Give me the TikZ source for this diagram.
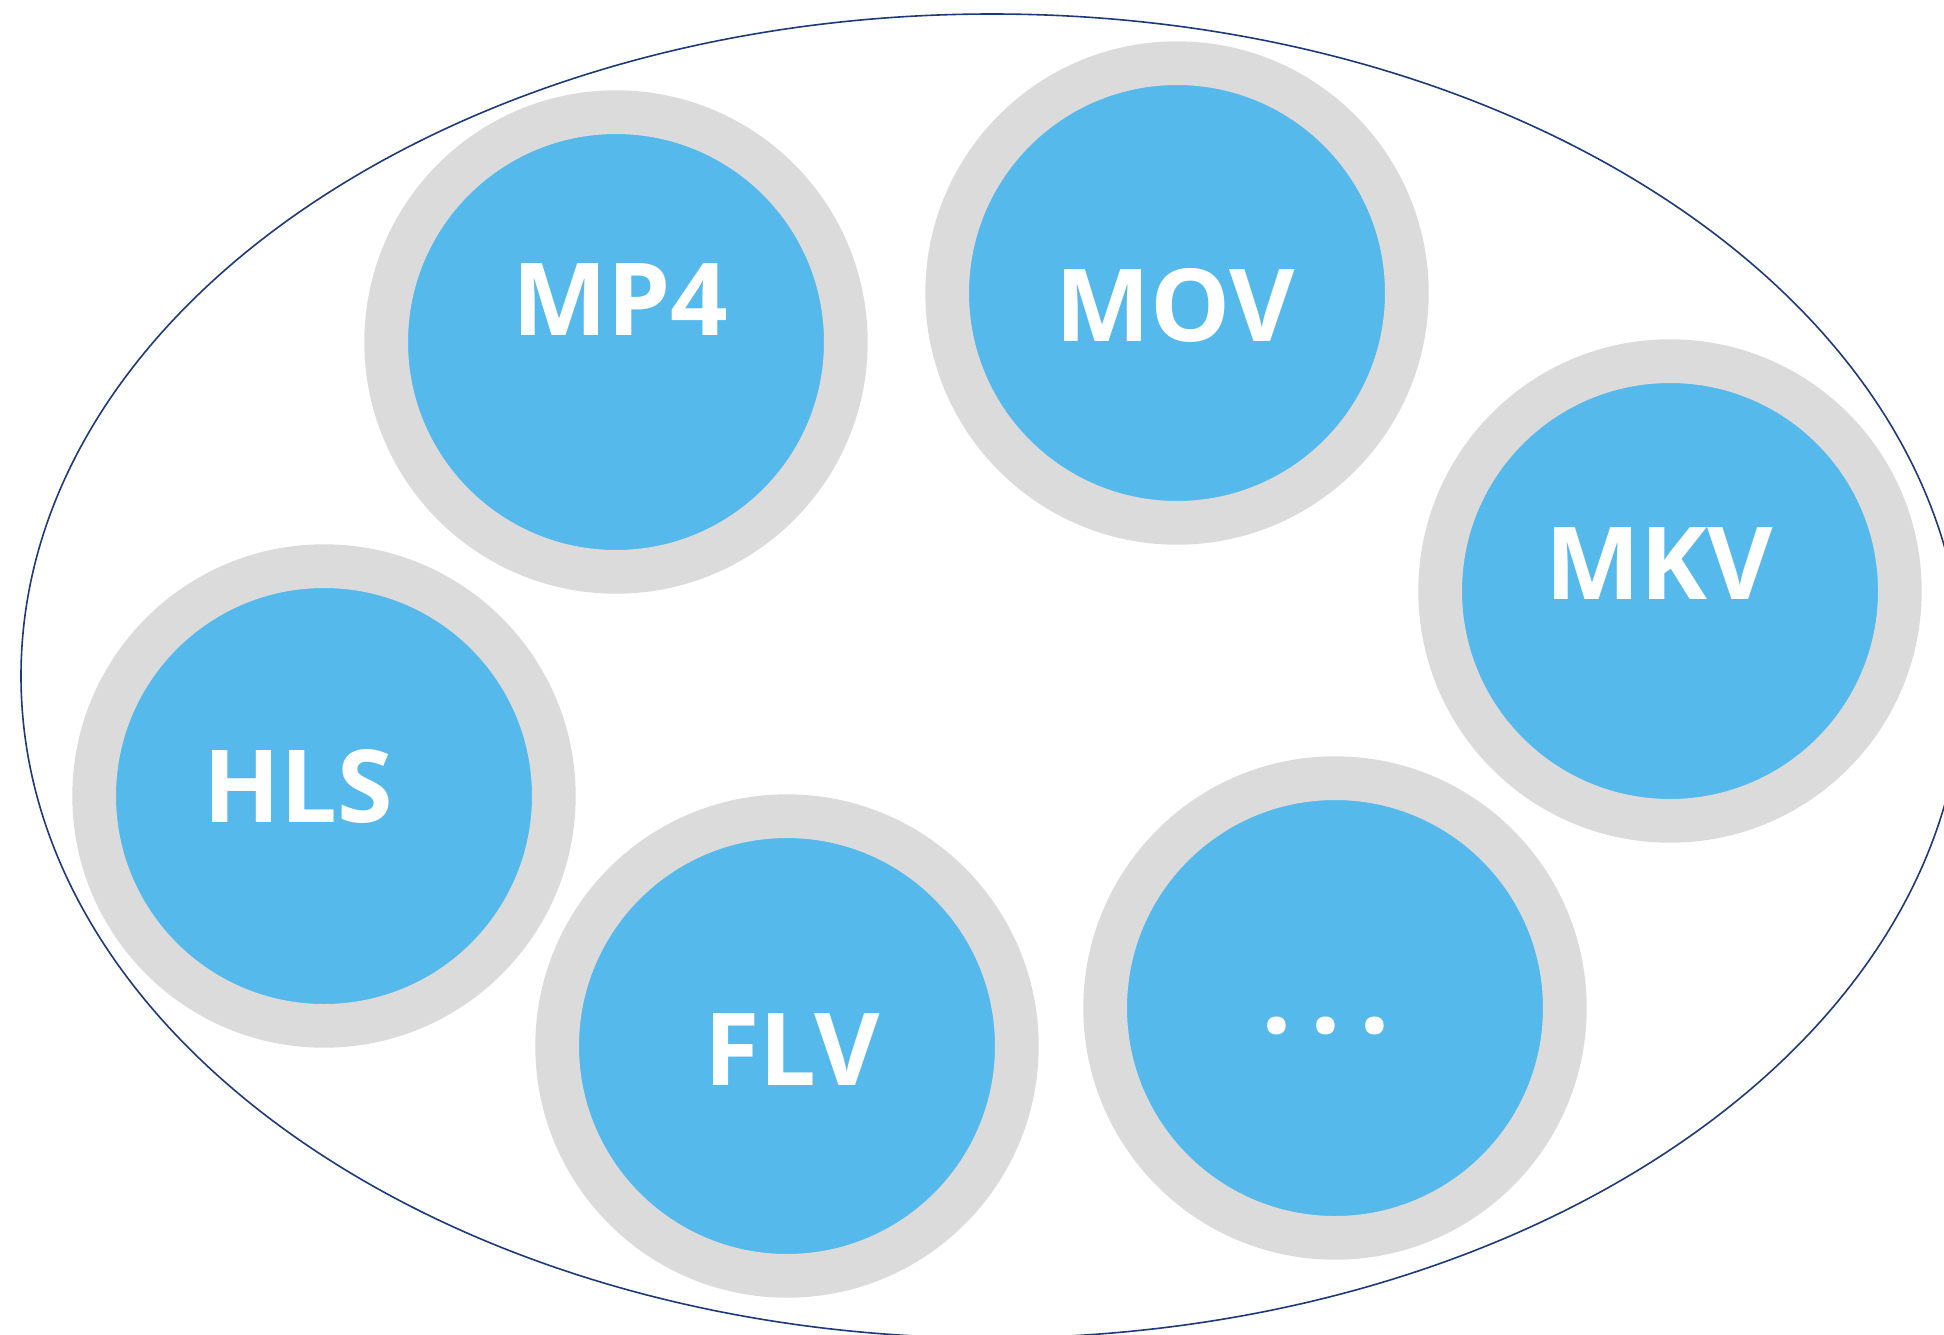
\documentclass[tikz,border=0pt]{standalone}
\usepackage{fontspec}
\setmainfont{Open Sans}
\definecolor{ringgray}{HTML}{DCDBDC}
\definecolor{diskblue}{HTML}{56B9EC}
\definecolor{navy}{HTML}{1E3A78}
\tikzset{
  disk/.style={circle, inner sep=0pt, minimum size=229.85pt, fill=diskblue, draw=ringgray, line width=21.85pt},
  lbl/.style={text=white, font=\bfseries\fontsize{50.4}{60}\selectfont, inner sep=0pt, anchor=center}
}
\begin{document}
\begin{tikzpicture}[x=0.5pt,y=-0.5pt]
\useasboundingbox (0,0) rectangle (1944,1334);
\clip (0,0) rectangle (1944,1334);
\fill[white] (0,0) rectangle (1944,1334);
\draw[navy, line width=0.8pt] (992,676) ellipse [x radius=971, y radius=662];
\node[disk] (mp4) at (616,342) {};
\node[disk] (mov) at (1177,293) {};
\node[disk] (mkv) at (1670,591) {};
\node[disk] (hls) at (324,796) {};
\node[disk] (flv) at (787,1046) {};
\node[disk] (more) at (1335,1008) {};
\node[lbl] (tmp4) at (620,300) {MP4};
\node[lbl] (tmov) at (1175,305) {MOV};
\node[lbl] (tmkv) at (1659,564) {MKV};
\node[lbl] (thls) at (298,786) {HLS};
\node[lbl] (tflv) at (792,1050) {FLV};
\node[lbl, font=\bfseries\fontsize{54}{60}\selectfont] (tmore) at (1326,1026) {.\hspace{0.17em}.\hspace{0.17em}.};
\end{tikzpicture}
\end{document}
